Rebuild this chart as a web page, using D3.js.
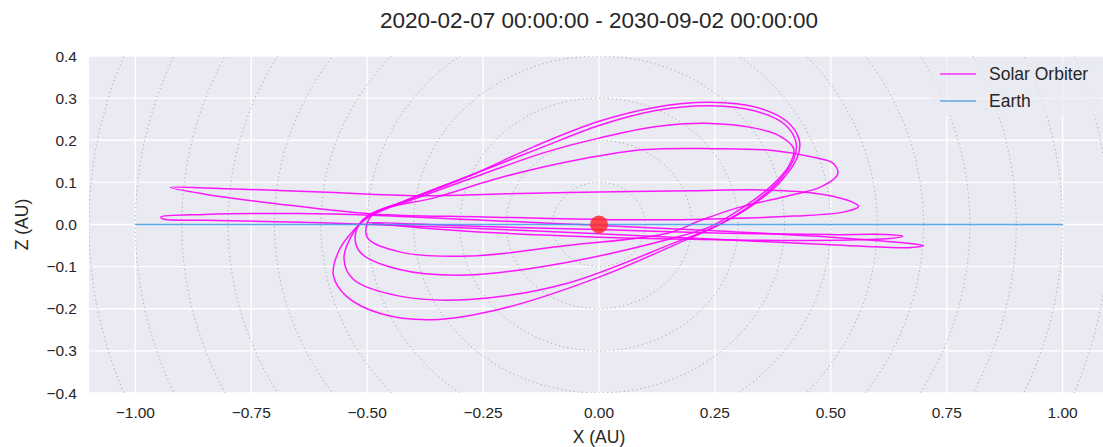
<!DOCTYPE html>
<html><head><meta charset="utf-8">
<script src="https://cdn.jsdelivr.net/npm/d3@7"></script>
<style>body{margin:0;background:#fff}svg{display:block}text{font-family:"Liberation Sans",Arial,sans-serif;fill:#262626}</style>
</head><body>
<svg id="chart" width="1103" height="447"></svg>
<script>
const title = "2020-02-07 00:00:00 - 2030-09-02 00:00:00";
const xTicks = [-1.0, -0.75, -0.5, -0.25, 0.0, 0.25, 0.5, 0.75, 1.0];
const yTicks = [-0.4, -0.3, -0.2, -0.1, 0.0, 0.1, 0.2, 0.3, 0.4];
const circleRadii = [0.1,0.2,0.3,0.4,0.5,0.6,0.7,0.8,0.9,1.0,1.1,1.2];
const seriesNames = ["Solar Orbiter", "Earth"];
const sun = [0, 0];
const earth = [[-1.0, 0.0], [1.0, 0.0]];
// Solar Orbiter loops, [X, Z] in AU
const soLoop1 = [[-0.50,0.015],[-0.43,0.05],[-0.28,0.115],[-0.14,0.185],[0.0,0.245],[0.12,0.278],[0.24,0.29],[0.34,0.278],[0.405,0.245],[0.432,0.2],[0.428,0.16],[0.39,0.1],[0.33,0.045],[0.26,0.0],[0.18,-0.04],[0.0,-0.125],[-0.21,-0.2],[-0.36,-0.226],[-0.47,-0.212],[-0.545,-0.17],[-0.573,-0.12],[-0.56,-0.06],[-0.53,-0.015]];
const soLoop2 = [[-0.50,0.018],[-0.42,0.056],[-0.27,0.12],[-0.13,0.18],[0.0,0.235],[0.12,0.27],[0.24,0.282],[0.335,0.27],[0.40,0.238],[0.425,0.195],[0.42,0.155],[0.385,0.1],[0.32,0.04],[0.25,-0.005],[0.17,-0.04],[-0.07,-0.14],[-0.28,-0.178],[-0.43,-0.17],[-0.53,-0.13],[-0.55,-0.08],[-0.53,-0.02]];
const soLoop3 = [[-0.50,0.02],[-0.40,0.06],[-0.25,0.12],[-0.12,0.17],[0.0,0.205],[0.12,0.232],[0.24,0.24],[0.33,0.23],[0.39,0.21],[0.42,0.18],[0.41,0.14],[0.37,0.09],[0.31,0.04],[0.24,-0.005],[0.15,-0.035],[-0.07,-0.09],[-0.28,-0.12],[-0.43,-0.107],[-0.515,-0.066],[-0.525,-0.02]];
const soLoop4 = [[-0.49,0.022],[-0.35,0.065],[-0.2,0.115],[-0.04,0.155],[0.1,0.178],[0.25,0.18],[0.37,0.176],[0.46,0.16],[0.505,0.145],[0.515,0.12],[0.48,0.09],[0.40,0.066],[0.3,0.04],[0.22,0.01],[0.15,-0.02],[-0.07,-0.05],[-0.28,-0.075],[-0.43,-0.065],[-0.5,-0.03]];
const soLoop5 = [[-0.925,0.088],[-0.8,0.085],[-0.6,0.077],[-0.39,0.068],[-0.2,0.073],[0.0,0.077],[0.2,0.08],[0.35,0.082],[0.46,0.075],[0.535,0.058],[0.56,0.043],[0.53,0.03],[0.42,0.02],[0.2,0.012],[0.0,0.012],[-0.25,0.018],[-0.49,0.025],[-0.7,0.05],[-0.85,0.072]];
const soLoop6 = [[-0.945,0.018],[-0.85,0.024],[-0.65,0.026],[-0.49,0.022],[-0.25,0.01],[0.0,-0.002],[0.25,-0.015],[0.5,-0.03],[0.65,-0.043],[0.70,-0.05],[0.67,-0.055],[0.5,-0.048],[0.25,-0.035],[0.0,-0.022],[-0.3,-0.008],[-0.6,0.004],[-0.85,0.01],[-0.94,0.013]];
const soLoop7 = [[-0.5,0.005],[-0.25,-0.005],[0.0,-0.012],[0.25,-0.02],[0.5,-0.024],[0.62,-0.024],[0.655,-0.028],[0.62,-0.034],[0.45,-0.038],[0.2,-0.035],[0.0,-0.03],[-0.3,-0.015]];
const soLoops = [soLoop1, soLoop2, soLoop3, soLoop4, soLoop5, soLoop6, soLoop7];

const svg = d3.select("#chart");
const L = 89, R = 1109, T = 56, B = 393;
const x = d3.scaleLinear().domain([-1.1, 1.1]).range([L, R]);
const y = d3.scaleLinear().domain([-0.4, 0.4]).range([B, T]);

svg.append("defs").append("clipPath").attr("id","clip").append("rect")
  .attr("x", L).attr("y", T).attr("width", R - L).attr("height", B - T);

svg.append("rect").attr("x", L).attr("y", T).attr("width", R - L).attr("height", B - T).attr("fill", "#EAEAF2");

const g = svg.append("g").attr("clip-path", "url(#clip)");
// grid
g.selectAll(".gx").data(xTicks).enter().append("line")
  .attr("x1", d => x(d)).attr("x2", d => x(d)).attr("y1", T).attr("y2", B)
  .attr("stroke", "#fff").attr("stroke-width", 1.3);
g.selectAll(".gy").data(yTicks).enter().append("line")
  .attr("x1", L).attr("x2", R).attr("y1", d => y(d)).attr("y2", d => y(d))
  .attr("stroke", "#fff").attr("stroke-width", 1.3);
// dotted concentric circles
g.selectAll(".circ").data(circleRadii).enter().append("ellipse")
  .attr("cx", x(0)).attr("cy", y(0))
  .attr("rx", d => x(d) - x(0)).attr("ry", d => y(0) - y(d))
  .attr("fill", "none").attr("stroke", "#8e8e98").attr("stroke-width", 0.9)
  .attr("stroke-dasharray", "1.2,3").attr("opacity", 0.85);

// Solar Orbiter
const loopLine = d3.line().x(d => x(d[0])).y(d => y(d[1])).curve(d3.curveCatmullRomClosed.alpha(0.5));
g.selectAll(".so").data(soLoops).enter().append("path")
  .attr("d", loopLine).attr("fill", "none").attr("stroke", "#f0f").attr("stroke-width", 1.5).attr("opacity", 0.9);

// Earth
const line = d3.line().x(d => x(d[0])).y(d => y(d[1]));
g.append("path").attr("d", line(earth)).attr("fill", "none").attr("stroke", "#3d9be6").attr("stroke-width", 1.6).attr("opacity", 0.85);

// Sun
g.append("circle").attr("cx", x(sun[0])).attr("cy", y(sun[1])).attr("r", 9).attr("fill", "#ff2a2a").attr("opacity", 0.85);

// ticks
svg.selectAll(".xt").data(xTicks).enter().append("text")
  .attr("x", d => x(d)).attr("y", 418).attr("text-anchor", "middle").attr("font-size", 15.5)
  .text(d => d3.format(".2f")(d).replace("-", "\u2212"));
svg.selectAll(".yt").data(yTicks).enter().append("text")
  .attr("x", 77).attr("y", d => y(d) + 5.5).attr("text-anchor", "end").attr("font-size", 15.5)
  .text(d => d3.format(".1f")(d).replace("-", "\u2212"));

svg.append("text").attr("x", x(0)).attr("y", 443).attr("text-anchor", "middle").attr("font-size", 17.5).text("X (AU)");
svg.append("text").attr("transform", `translate(28,${y(0)}) rotate(-90)`).attr("text-anchor", "middle").attr("font-size", 17.5).text("Z (AU)");
svg.append("text").attr("x", x(0)).attr("y", 28).attr("text-anchor", "middle").attr("font-size", 22.5).text(title);

// legend
const lg = svg.append("g");
lg.append("rect").attr("x", 930).attr("y", 60).attr("width", 172).attr("height", 56).attr("rx", 3)
  .attr("fill", "#EAEAF2").attr("opacity", 0.7);
const lcol = ["#f0f", "#3d9be6"];
seriesNames.forEach((n, i) => {
  const yy = 74 + i * 27;
  lg.append("line").attr("x1", 940).attr("x2", 976).attr("y1", yy).attr("y2", yy).attr("stroke", lcol[i]).attr("stroke-width", 1.6).attr("opacity", 0.8);
  lg.append("text").attr("x", 989).attr("y", yy + 6).attr("font-size", 17.5).text(n);
});
</script>
</body></html>
